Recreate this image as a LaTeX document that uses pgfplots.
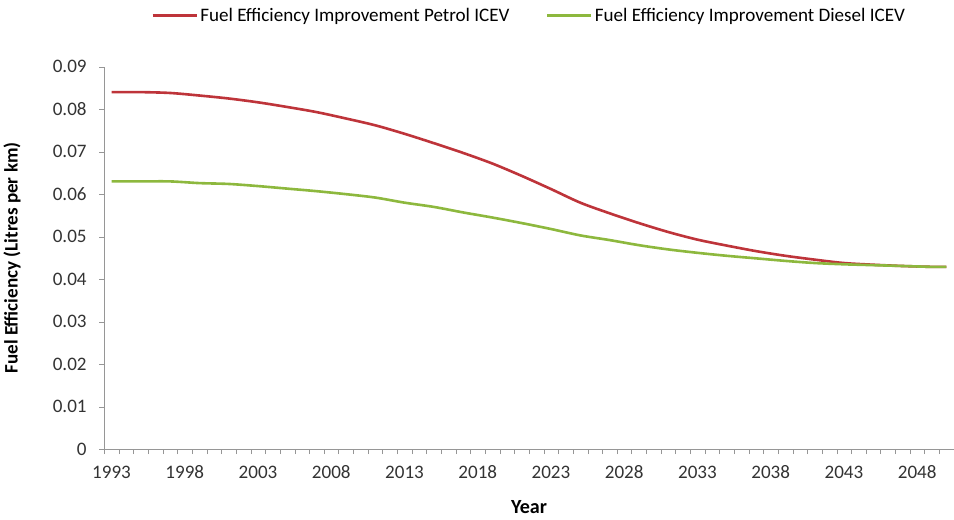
\documentclass[border={0pt 2pt 0pt 6pt}]{standalone}
\usepackage{fontspec}
\setmainfont{Carlito}
\usepackage{pgfplots}
\pgfplotsset{compat=1.18}
\definecolor{petrol}{RGB}{190,52,58}
\definecolor{diesel}{RGB}{141,184,62}
\definecolor{axisgray}{RGB}{150,150,150}
\begin{document}
\begin{tikzpicture}
\begin{axis}[
  width=846pt, height=381pt, scale only axis,
  xmin=1992.5, xmax=2050.5, ymin=0, ymax=0.09,
  scaled y ticks=false,
  axis lines=left, axis line style={-, axisgray},
  xtick={1993,1998,...,2048},
  minor xtick={1992.5,1993.5,...,2050.5},
  ytick={0,0.01,...,0.09},
  minor ytick={0,0.01,...,0.09},
  yticklabels={0,0.01,0.02,0.03,0.04,0.05,0.06,0.07,0.08,0.09},
  xticklabel={\pgfmathprintnumber[1000 sep={},assume math mode=true]{\tick}},
  major tick length=0pt, minor tick length=5pt, tick align=outside,
  minor tick style={axisgray},
  tick label style={font=\fontsize{19}{21}\selectfont, text=black!80},
  xticklabel style={anchor=center, yshift=-23pt},
  yticklabel style={anchor=east, xshift=-14pt},
  xlabel={\textbf{Year}}, ylabel={\textbf{Fuel Efficiency (Litres per km)}},
  every axis x label/.style={at={(axis description cs:0.5,0)}, anchor=center,
    yshift=-58pt, font=\fontsize{20}{22}\selectfont},
  every axis y label/.style={at={(axis description cs:0,0.5)}, rotate=90,
    anchor=north, yshift=104pt, font=\fontsize{19}{21}\selectfont},
  legend style={at={(0.5,1)}, anchor=center, yshift=51pt, draw=none, fill=none,
    legend columns=2, font=\fontsize{19}{21}\selectfont, inner sep=0pt,
    /tikz/every even column/.append style={column sep=34pt}},
  legend image code/.code={\draw[#1, line width=3pt] (0pt,0pt) -- (44pt,0pt);},
]
\addplot[petrol, line width=2.6pt, smooth] coordinates {
(1993,0.0840) (1995,0.0840) (1997,0.0838) (1999,0.0832) (2001,0.0825)
(2003,0.0816) (2005,0.0805) (2007,0.0793) (2009,0.0778) (2011,0.0762)
(2013,0.0742) (2015,0.0720) (2017,0.0697) (2019,0.0672) (2021,0.0643)
(2023,0.0612) (2025,0.0580) (2027,0.0555) (2029,0.0532) (2031,0.0511)
(2033,0.0493) (2035,0.0479) (2037,0.0466) (2039,0.0455) (2041,0.0446)
(2043,0.0438) (2045,0.0434) (2047,0.0431) (2049,0.0429) (2050,0.0429)
};
\addlegendentry{Fuel Efficiency Improvement Petrol ICEV}
\addplot[diesel, line width=2.6pt, smooth] coordinates {
(1993,0.0630) (1995,0.0630) (1997,0.0630) (1999,0.0626) (2001,0.0624)
(2003,0.0619) (2005,0.0613) (2007,0.0607) (2009,0.0600) (2011,0.0592)
(2013,0.0580) (2015,0.0570) (2017,0.0557) (2019,0.0545) (2021,0.0532)
(2023,0.0518) (2025,0.0503) (2027,0.0492) (2029,0.0480) (2031,0.0470)
(2033,0.0462) (2035,0.0455) (2037,0.0449) (2039,0.0443) (2041,0.0438)
(2043,0.0435) (2045,0.0433) (2047,0.0431) (2049,0.0429) (2050,0.0429)
};
\addlegendentry{Fuel Efficiency Improvement Diesel ICEV}
\end{axis}
\end{tikzpicture}
\end{document}
